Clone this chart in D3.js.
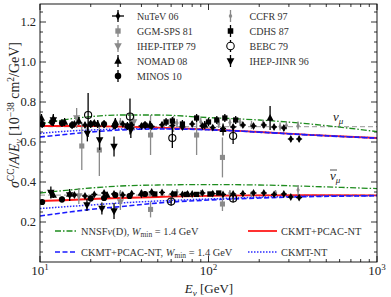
<!DOCTYPE html>
<html>
<head>
<meta charset="utf-8">
<title>CC cross section over E</title>
<style>
body { margin: 0; background: #fff; }
svg text { font-family: "Liberation Serif", "DejaVu Serif", serif; }
</style>
</head>
<body>
<script src="https://cdn.jsdelivr.net/npm/d3@7"></script>
<script>

// model curves, sampled at these neutrino energies [GeV]
var curveE = [10, 15, 20, 30, 50, 100, 200, 400, 1000];
var nnsfNu     = [0.690, 0.715, 0.727, 0.735, 0.735, 0.722, 0.710, 0.690, 0.652];
var pcacNu     = [0.680, 0.680, 0.679, 0.677, 0.672, 0.663, 0.650, 0.636, 0.620];
var pcacWNu    = [0.625, 0.640, 0.650, 0.660, 0.665, 0.661, 0.649, 0.635, 0.619];
var ntNu       = [0.643, 0.655, 0.660, 0.665, 0.667, 0.662, 0.650, 0.636, 0.620];
var nnsfNubar  = [0.345, 0.360, 0.370, 0.380, 0.385, 0.387, 0.385, 0.378, 0.367];
var pcacNubar  = [0.305, 0.310, 0.315, 0.320, 0.325, 0.331, 0.333, 0.334, 0.333];
var pcacWNubar = [0.230, 0.250, 0.263, 0.277, 0.295, 0.310, 0.320, 0.327, 0.331];
var ntNubar    = [0.267, 0.278, 0.285, 0.295, 0.305, 0.315, 0.324, 0.330, 0.332];
var worldAvg   = [0.677, 0.334];   // grey dashed reference lines

// measurements: [E, value, error]
var nutevE     = [16, 18.5, 21, 24, 27.5, 31, 35, 40, 46, 53, 61, 70, 80, 92, 106, 122, 140, 160, 185, 213, 245, 280, 308, 345];
var nutevNu    = [0.690, 0.685, 0.695, 0.688, 0.680, 0.690, 0.685, 0.680, 0.678, 0.686, 0.682, 0.675, 0.690, 0.680, 0.672, 0.668, 0.675, 0.685, 0.680, 0.685, 0.675, 0.670, 0.615, 0.615];
var nutevNubar = [0.335, 0.330, 0.338, 0.345, 0.340, 0.335, 0.342, 0.338, 0.350, 0.348, 0.340, 0.338, 0.340, 0.345, 0.342, 0.338, 0.340, 0.342, 0.345, 0.345, 0.338, 0.340, 0.325, 0.322];

var ggmNu      = [[17.7, 0.58, 0.12], [22.5, 0.56, 0.13], [45.3, 0.635, 0.10], [85, 0.635, 0.10], [121, 0.523, 0.10]];
var ggmNubar   = [[45.3, 0.263, 0.04], [121, 0.29, 0.035]];
var itepNu     = [[16.5, 0.72, 0.05], [36, 0.70, 0.04], [62, 0.69, 0.04]];
var itepNubar  = [[17, 0.33, 0.04], [30, 0.30, 0.04]];
var nomadNu    = [[10.2, 0.72, 0.02], [12, 0.715, 0.02], [14, 0.70, 0.02], [17, 0.705, 0.02], [22, 0.69, 0.02], [28, 0.70, 0.02], [45, 0.685, 0.02], [95, 0.685, 0.02], [122, 0.663, 0.03], [232, 0.72, 0.06]];
var nomadNubar = [[12, 0.335, 0.015], [15, 0.34, 0.015], [25, 0.335, 0.015], [40, 0.345, 0.015], [75, 0.34, 0.015]];
var minosNu    = [[10.3, 0.69, 0.02], [11.8, 0.70, 0.02], [13.5, 0.695, 0.02], [15.5, 0.685, 0.02], [20, 0.69, 0.02], [24, 0.69, 0.02], [28, 0.685, 0.02], [33, 0.68, 0.02], [42, 0.685, 0.02]];
var minosNubar = [[10.3, 0.30, 0.015], [13.5, 0.313, 0.015], [20, 0.318, 0.015], [24, 0.32, 0.015], [28, 0.335, 0.015], [34, 0.33, 0.015], [42, 0.34, 0.015]];
var ccfrNu     = [[30, 0.70, 0.02], [45, 0.69, 0.02], [65, 0.695, 0.02], [90, 0.70, 0.02], [115, 0.69, 0.02], [134, 0.697, 0.02], [154, 0.70, 0.02], [180, 0.685, 0.02], [210, 0.69, 0.02], [266, 0.677, 0.02], [290, 0.683, 0.02], [340, 0.682, 0.02]];
var ccfrNubar  = [[30, 0.345, 0.015], [45, 0.34, 0.015], [65, 0.35, 0.015], [90, 0.345, 0.015], [134, 0.345, 0.015], [180, 0.34, 0.015], [250, 0.345, 0.015], [340, 0.36, 0.025]];
var cdhsNu     = [[56, 0.70, 0.02], [61, 0.705, 0.02], [70, 0.69, 0.02], [85, 0.72, 0.02], [100, 0.70, 0.02], [112, 0.71, 0.02], [125, 0.72, 0.02], [145, 0.71, 0.02]];
var cdhsNubar  = [[48, 0.34, 0.01], [63, 0.34, 0.01], [74, 0.338, 0.01], [85, 0.338, 0.01], [102, 0.34, 0.01], [115, 0.345, 0.01]];
var bebcNu     = [[19.3, 0.735, 0.11], [34.2, 0.727, 0.09], [61, 0.62, 0.05], [140, 0.63, 0.04]];
var bebcNubar  = [[60, 0.302, 0.02], [140, 0.318, 0.02]];
var jinrNu     = [[12, 0.71, 0.03], [19.1, 0.643, 0.04], [22.6, 0.61, 0.05], [27.5, 0.577, 0.05], [34.6, 0.66, 0.04]];
var jinrNubar  = [[11.6, 0.347, 0.03], [15, 0.335, 0.03], [19, 0.285, 0.03], [23.3, 0.268, 0.03], [27.5, 0.255, 0.04]];

var xTicks = [10, 100, 1000];
var yTicks = [0.2, 0.4, 0.6, 0.8, 1.0, 1.2];

var w = 391;
var h = 297;
var pLeft = 40, pRight = 377, pTop = 4, pBottom = 262;

var xScale = d3.scaleLog().domain([10, 1000]).range([pLeft, pRight]);
var yScale = d3.scaleLinear().domain([0, 1.29]).range([pBottom, pTop]);

var svg = d3.select("body").append("svg")
    .attr("width", w)
    .attr("height", h);

svg.append("rect").attr("width", w).attr("height", h).attr("fill", "#fff");

var plot = svg.append("g");

// ticks, pointing inwards on all four sides
var minorX = [];
[10, 100].forEach(function(d) { for (var k = 2; k < 10; k++) minorX.push(d * k); });
var minorY = d3.range(0.05, 1.29, 0.05).filter(function(v) { return Math.abs(v / 0.2 - Math.round(v / 0.2)) > 0.01; });

function tickLines(g, vals, len, vertical) {
    vals.forEach(function(v) {
        if (vertical) {
            var x = xScale(v);
            g.append("line").attr("x1", x).attr("x2", x).attr("y1", pBottom).attr("y2", pBottom - len);
            g.append("line").attr("x1", x).attr("x2", x).attr("y1", pTop).attr("y2", pTop + len);
        } else {
            var y = yScale(v);
            g.append("line").attr("y1", y).attr("y2", y).attr("x1", pLeft).attr("x2", pLeft + len);
            g.append("line").attr("y1", y).attr("y2", y).attr("x1", pRight).attr("x2", pRight - len);
        }
    });
}
var tg = plot.append("g").attr("stroke", "#000").attr("stroke-width", 0.8);
tickLines(tg, xTicks, 6, true);
tickLines(tg, minorX, 3, true);
tickLines(tg, yTicks, 6, false);
tickLines(tg, minorY, 3, false);

// tick labels
svg.selectAll("text.ylab")
    .data(yTicks)
    .enter()
    .append("text")
    .attr("class", "ylab")
    .attr("x", pLeft - 4)
    .attr("y", function(d) { return yScale(d) + 4; })
    .attr("text-anchor", "end")
    .attr("font-size", "12.5px")
    .attr("fill", "#222")
    .text(function(d) { return d3.format(".1f")(d); });

var xl = svg.selectAll("text.xlab")
    .data(xTicks)
    .enter()
    .append("text")
    .attr("class", "xlab")
    .attr("x", function(d) { return xScale(d); })
    .attr("y", 275)
    .attr("text-anchor", "middle")
    .attr("font-size", "13px")
    .attr("fill", "#222");
xl.append("tspan").text("10");
xl.append("tspan").attr("dy", -5).attr("font-size", "9px").text(function(d) { return Math.round(Math.log10(d)); });

// axis titles
var xt = svg.append("text")
    .attr("x", 209).attr("y", 293)
    .attr("text-anchor", "middle")
    .attr("font-size", "13px")
    .attr("fill", "#222");
xt.append("tspan").attr("font-style", "italic").text("E");
xt.append("tspan").attr("font-style", "italic").attr("font-size", "9px").attr("dy", 3).text("ν");
xt.append("tspan").attr("dy", -3).text(" [GeV]");

var yt = svg.append("text")
    .attr("transform", "translate(19," + 115 + ") rotate(-90)")
    .attr("text-anchor", "middle")
    .attr("font-size", "14px")
    .attr("fill", "#222");
yt.append("tspan").attr("font-style", "italic").text("σ");
yt.append("tspan").attr("font-size", "9.5px").attr("dy", -5).text("CC");
yt.append("tspan").attr("dy", 5).text("/");
yt.append("tspan").attr("font-style", "italic").text("A");
yt.append("tspan").text("/");
yt.append("tspan").attr("font-style", "italic").text("E");
yt.append("tspan").attr("font-style", "italic").attr("font-size", "9.5px").attr("dy", 3).text("ν");
yt.append("tspan").attr("dy", -3).text(" [10");
yt.append("tspan").attr("font-size", "9.5px").attr("dy", -5).text("−38");
yt.append("tspan").attr("dy", 5).text(" cm");
yt.append("tspan").attr("font-size", "9.5px").attr("dy", -5).text("2");
yt.append("tspan").attr("dy", 5).text("/GeV]");

// model curves
svg.append("clipPath").attr("id", "clip")
    .append("rect").attr("x", pLeft).attr("y", pTop).attr("width", pRight - pLeft).attr("height", pBottom - pTop);

var curves = plot.append("g").attr("clip-path", "url(#clip)").attr("fill", "none");

var line = d3.line()
    .x(function(d) { return xScale(d[0]); })
    .y(function(d) { return yScale(d[1]); })
    .curve(d3.curveMonotoneX);

function zipE(vals) { return curveE.map(function(e, i) { return [e, vals[i]]; }); }

worldAvg.forEach(function(v) {
    curves.append("path")
        .attr("d", line([[10, v], [1000, v]]))
        .attr("stroke", "#aaa").attr("stroke-width", 1.2).attr("stroke-dasharray", "5,3");
});

var styles = [
    { data: [pcacNu, pcacNubar], color: "#ff1a1a", width: 1.8, dash: null },
    { data: [ntNu, ntNubar], color: "#2b2bff", width: 1.5, dash: "1.5,1.5" },
    { data: [pcacWNu, pcacWNubar], color: "#1a1aff", width: 1.6, dash: "5,2.5" },
    { data: [nnsfNu, nnsfNubar], color: "#1e8c1e", width: 1.3, dash: "6,2,1.5,2" }
];
styles.forEach(function(s) {
    s.data.forEach(function(vals) {
        curves.append("path")
            .attr("d", line(zipE(vals)))
            .attr("stroke", s.color)
            .attr("stroke-width", s.width)
            .attr("stroke-dasharray", s.dash);
    });
});

// data points
var downTri = { draw: function(ctx, size) { var r = Math.sqrt(size / 1.3); ctx.moveTo(-r * 0.75, -r * 0.55); ctx.lineTo(r * 0.75, -r * 0.55); ctx.lineTo(0, r * 0.85); ctx.closePath(); } };
var upTri = { draw: function(ctx, size) { var r = Math.sqrt(size / 1.3); ctx.moveTo(-r * 0.75, r * 0.55); ctx.lineTo(r * 0.75, r * 0.55); ctx.lineTo(0, -r * 0.85); ctx.closePath(); } };

var nutevNuPts = nutevE.map(function(e, i) { return [e, nutevNu[i], 0.012]; });
var nutevNubarPts = nutevE.map(function(e, i) { return [e, nutevNubar[i], 0.01]; });

var sets = [
    { pts: ggmNu.concat(ggmNubar), type: d3.symbolSquare, size: 26, fill: "#8a8a8a", bar: "#8a8a8a" },
    { pts: itepNu.concat(itepNubar), type: downTri, size: 30, fill: "#8a8a8a", bar: "#8a8a8a" },
    { pts: ccfrNu.concat(ccfrNubar), type: d3.symbolDiamond, size: 10, fill: "#888", bar: "#888" },
    { pts: minosNu.concat(minosNubar), type: d3.symbolCircle, size: 30, fill: "#000", bar: "#000" },
    { pts: nomadNu.concat(nomadNubar), type: upTri, size: 30, fill: "#000", bar: "#000" },
    { pts: cdhsNu.concat(cdhsNubar), type: d3.symbolSquare, size: 28, fill: "#000", bar: "#000" },
    { pts: jinrNu.concat(jinrNubar), type: downTri, size: 32, fill: "#000", bar: "#000" },
    { pts: nutevNuPts.concat(nutevNubarPts), type: d3.symbolDiamond, size: 18, fill: "#000", bar: "#000", cross: true },
    { pts: bebcNu.concat(bebcNubar), type: d3.symbolCircle, size: 40, fill: "none", stroke: "#000", bar: "#000" }
];

var marks = plot.append("g").attr("clip-path", "url(#clip)");
sets.forEach(function(s) {
    var g = marks.append("g");
    g.selectAll("line.err")
        .data(s.pts)
        .enter()
        .append("line")
        .attr("class", "err")
        .attr("x1", function(d) { return xScale(d[0]); })
        .attr("x2", function(d) { return xScale(d[0]); })
        .attr("y1", function(d) { return yScale(d[1] - d[2]); })
        .attr("y2", function(d) { return yScale(d[1] + d[2]); })
        .attr("stroke", s.bar)
        .attr("stroke-width", 1.3);
    if (s.cross) {
        g.selectAll("line.h")
            .data(s.pts)
            .enter()
            .append("line")
            .attr("class", "h")
            .attr("x1", function(d) { return xScale(d[0]) - 3; })
            .attr("x2", function(d) { return xScale(d[0]) + 3; })
            .attr("y1", function(d) { return yScale(d[1]); })
            .attr("y2", function(d) { return yScale(d[1]); })
            .attr("stroke", s.bar)
            .attr("stroke-width", 1.3);
    }
    g.selectAll("path")
        .data(s.pts)
        .enter()
        .append("path")
        .attr("transform", function(d) { return "translate(" + xScale(d[0]) + "," + yScale(d[1]) + ")"; })
        .attr("d", d3.symbol().type(s.type).size(s.size))
        .attr("fill", s.fill)
        .attr("stroke", s.stroke || "none")
        .attr("stroke-width", 1.1);
});

// frame
plot.append("rect")
    .attr("x", pLeft).attr("y", pTop)
    .attr("width", pRight - pLeft).attr("height", pBottom - pTop)
    .attr("fill", "none").attr("stroke", "#000").attr("stroke-width", 0.9);

// curve labels
var l1 = svg.append("text").attr("x", 333).attr("y", 121).attr("font-size", "13px").attr("font-style", "italic").attr("fill", "#222");
l1.append("tspan").text("ν");
l1.append("tspan").attr("font-size", "9px").attr("dy", 3).text("μ");
var l2 = svg.append("text").attr("x", 330).attr("y", 180).attr("font-size", "13px").attr("font-style", "italic").attr("fill", "#222");
l2.append("tspan").text("ν");
l2.append("tspan").attr("font-size", "9px").attr("dy", 3).text("μ");
svg.append("line").attr("x1", 330).attr("x2", 337).attr("y1", 170).attr("y2", 170).attr("stroke", "#222").attr("stroke-width", 0.8);

// legend of experiments
var expNames = ["NuTeV 06", "GGM-SPS 81", "IHEP-ITEP 79", "NOMAD 08", "MINOS 10", "CCFR 97", "CDHS 87", "BEBC 79", "IHEP-JINR 96"];
var expSets = [7, 0, 1, 4, 3, 2, 5, 8, 6];
var leg = svg.append("g");
expNames.forEach(function(name, i) {
    var col = i < 5 ? 0 : 1;
    var row = i < 5 ? i : i - 5;
    var sx = col ? 230.5 : 118;
    var sy = 16 + row * 15;
    var s = sets[expSets[i]];
    var g = leg.append("g").attr("transform", "translate(" + sx + "," + sy + ")");
    g.append("line").attr("x1", 0).attr("x2", 0).attr("y1", -6).attr("y2", 6).attr("stroke", s.bar).attr("stroke-width", 1.3);
    if (s.cross) g.append("line").attr("x1", -6).attr("x2", 6).attr("y1", 0).attr("y2", 0).attr("stroke", s.bar).attr("stroke-width", 1.3);
    g.append("path")
        .attr("d", d3.symbol().type(s.type).size(s.size * 1.1))
        .attr("fill", s.fill === "none" ? "#fff" : s.fill)
        .attr("stroke", s.stroke || "none")
        .attr("stroke-width", 1.1);
    g.append("text")
        .attr("x", 19).attr("y", 3.5)
        .attr("font-size", "10px")
        .attr("fill", "#333")
        .text(name);
});

// legend of models
var modelLeg = [
    { x: 55, y: 231, len: 22, s: 3, parts: [["NNSF", ""], ["ν", "i"], ["(D), ", ""], ["W", "i"], ["min", "sub"], [" = 1.4 GeV", ""]] },
    { x: 55, y: 252, len: 22, s: 2, parts: [["CKMT+PCAC-NT, ", ""], ["W", "i"], ["min", "sub"], [" = 1.4 GeV", ""]] },
    { x: 248, y: 231, len: 29, s: 0, parts: [["CKMT+PCAC-NT", ""]] },
    { x: 248, y: 252, len: 29, s: 1, parts: [["CKMT-NT", ""]] }
];
modelLeg.forEach(function(m) {
    var s = styles[m.s];
    svg.append("line")
        .attr("x1", m.x).attr("x2", m.x + m.len).attr("y1", m.y).attr("y2", m.y)
        .attr("stroke", s.color).attr("stroke-width", s.width).attr("stroke-dasharray", s.dash);
    var t = svg.append("text").attr("x", m.x + m.len + 4).attr("y", m.y + 3.5).attr("font-size", "10.4px").attr("fill", "#333");
    var shifted = false;
    m.parts.forEach(function(p) {
        var sp = t.append("tspan").text(p[0]);
        if (p[1] === "i") sp.attr("font-style", "italic");
        if (p[1] === "sub") { sp.attr("font-size", "7.5px").attr("dy", 2); shifted = true; }
        else if (shifted) { sp.attr("dy", -2); shifted = false; }
    });
});

</script>
</body>
</html>
